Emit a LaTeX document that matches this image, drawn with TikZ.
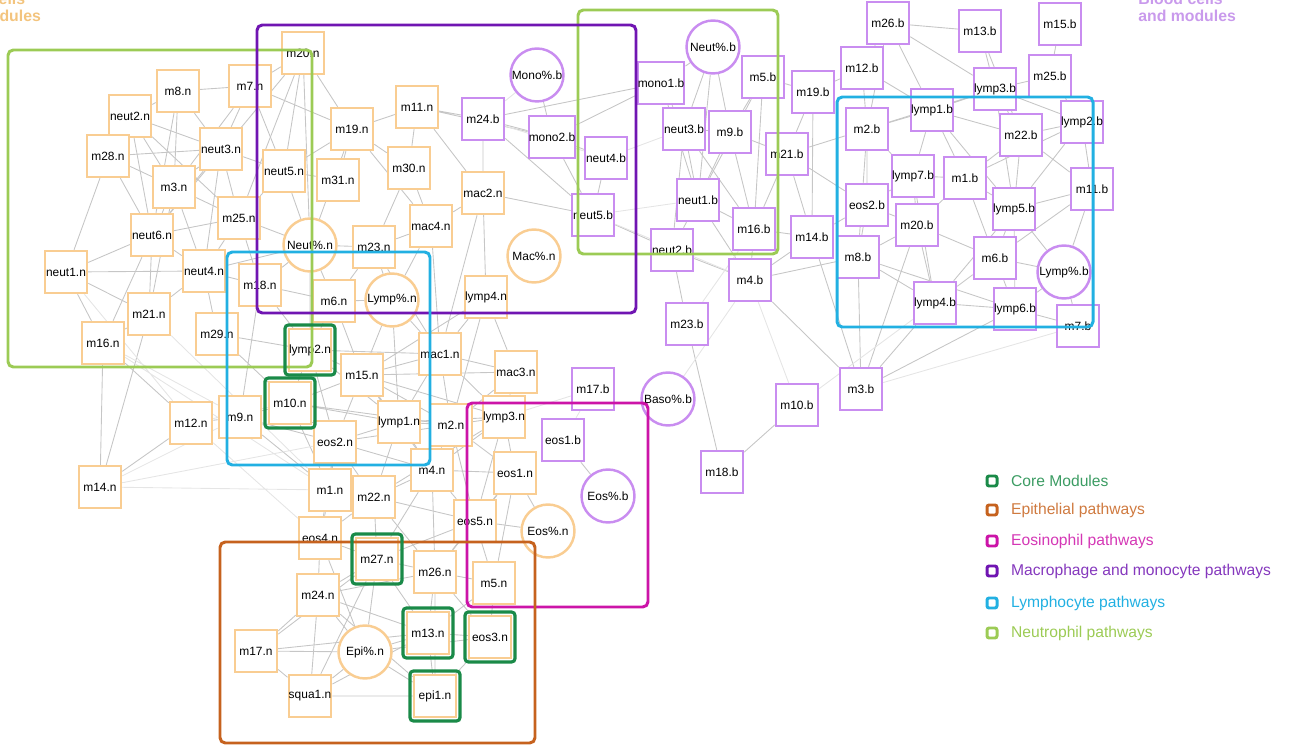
\documentclass[tikz,border=0pt]{standalone}
\usepackage{fontspec}
\setmainfont{Liberation Sans}
\usetikzlibrary{positioning, fit, backgrounds}
\definecolor{nasal}{HTML}{F9CD92}
\definecolor{blood}{HTML}{C98DF0}
\definecolor{nasaltxt}{HTML}{F3C47E}
\definecolor{bloodtxt}{HTML}{C99AEC}
\definecolor{corecol}{HTML}{1A8A48}
\definecolor{epicol}{HTML}{C6621E}
\definecolor{eoscol}{HTML}{CC14A8}
\definecolor{maccol}{HTML}{7015B2}
\definecolor{lymcol}{HTML}{22B0E2}
\definecolor{neucol}{HTML}{9CCB55}

\begin{document}
\begin{tikzpicture}[x=0.02cm, y=-0.02cm,
  nbox/.style={rectangle, draw=nasal, fill=white, line width=1.4pt,
               minimum size=0.84cm, inner sep=0pt,
               font=\fontsize{6.8}{8}\selectfont},
  ncirc/.style={nbox, circle, minimum size=1.06cm},
  bbox/.style={nbox, draw=blood},
  bcirc/.style={ncirc, draw=blood},
  core/.style={rectangle, draw=corecol, line width=1.8pt,
               rounded corners=2pt, inner sep=1.6pt},
  frame/.style={line width=1.7pt, rounded corners=3pt},
  edge/.style={gray!45, line width=0.5pt},
  fedge/.style={gray!20, line width=0.5pt},
  head/.style={font=\fontsize{9}{10}\selectfont\bfseries, inner sep=0pt},
  legsq/.style={rectangle, rounded corners=1.2pt, line width=1.7pt,
                minimum size=0.2cm, inner sep=0pt},
  legtxt/.style={font=\fontsize{8.9}{10}\selectfont, inner sep=0pt},
]
\useasboundingbox (0,0) rectangle (1289,746);
\clip (0,0) rectangle (1289,746);

% headers
\node[head, text=nasaltxt, anchor=base west] (nas1) at (-57,5) {Nasal cells};
\node[head, text=nasaltxt, anchor=base west] (nas2) at (-57,22) {and modules};
\node[head, text=bloodtxt, anchor=base west] (blo1) at (1138,5) {Blood cells};
\node[head, text=bloodtxt, anchor=base west] (blo2) at (1138,22) {and modules};

% nasal nodes
\node[nbox] (m20n) at (303,53) {m20.n};
\node[nbox] (m8n) at (178,91) {m8.n};
\node[nbox] (m7n) at (250,86) {m7.n};
\node[nbox] (neut2n) at (130,116) {neut2.n};
\node[nbox] (m28n) at (108,156) {m28.n};
\node[nbox] (neut3n) at (221,149) {neut3.n};
\node[nbox] (m3n) at (174,187) {m3.n};
\node[nbox] (neut5n) at (284,171) {neut5.n};
\node[nbox] (m25n) at (239,218) {m25.n};
\node[nbox] (neut6n) at (152,235) {neut6.n};
\node[ncirc] (neutPn) at (310,245) {Neut\%.n};
\node[nbox] (m19n) at (352,129) {m19.n};
\node[nbox] (m11n) at (417,107) {m11.n};
\node[nbox] (m31n) at (338,180) {m31.n};
\node[nbox] (m30n) at (409,168) {m30.n};
\node[nbox] (m23n) at (374,247) {m23.n};
\node[nbox] (mac4n) at (431,226) {mac4.n};
\node[nbox] (mac2n) at (483,193) {mac2.n};
\node[ncirc] (macPn) at (534,256) {Mac\%.n};
\node[nbox] (neut1n) at (66,272) {neut1.n};
\node[nbox] (neut4n) at (204,271) {neut4.n};
\node[nbox] (m18n) at (260,285) {m18.n};
\node[nbox] (m6n) at (334,301) {m6.n};
\node[ncirc] (lympPn) at (392,300) {Lymp\%.n};
\node[nbox] (lymp4n) at (486,297) {lymp4.n};
\node[nbox] (m21n) at (149,314) {m21.n};
\node[nbox] (m29n) at (217,334) {m29.n};
\node[nbox] (m16n) at (103,343) {m16.n};
\node[nbox] (lymp2n) at (310,350) {lymp2.n};
\node[nbox] (mac1n) at (440,354) {mac1.n};
\node[nbox] (m15n) at (362,375) {m15.n};
\node[nbox] (mac3n) at (516,372) {mac3.n};
\node[nbox] (m10n) at (290,403) {m10.n};
\node[nbox] (m9n) at (240,417) {m9.n};
\node[nbox] (m12n) at (191,423) {m12.n};
\node[nbox] (lymp1n) at (399,422) {lymp1.n};
\node[nbox] (m2n) at (451,425) {m2.n};
\node[nbox] (lymp3n) at (504,417) {lymp3.n};
\node[nbox] (eos2n) at (335,442) {eos2.n};
\node[nbox] (m4n) at (432,470) {m4.n};
\node[nbox] (eos1n) at (515,473) {eos1.n};
\node[nbox] (m14n) at (100,487) {m14.n};
\node[nbox] (m1n) at (330,490) {m1.n};
\node[nbox] (m22n) at (374,497) {m22.n};
\node[nbox] (eos5n) at (475,521) {eos5.n};
\node[ncirc] (eosPn) at (548,531) {Eos\%.n};
\node[nbox] (eos4n) at (320,538) {eos4.n};
\node[nbox] (m27n) at (377,559) {m27.n};
\node[nbox] (m26n) at (435,572) {m26.n};
\node[nbox] (m5n) at (494,583) {m5.n};
\node[nbox] (m24n) at (318,595) {m24.n};
\node[nbox] (m13n) at (428,633) {m13.n};
\node[nbox] (eos3n) at (490,637) {eos3.n};
\node[nbox] (m17n) at (256,651) {m17.n};
\node[ncirc] (epiPn) at (365,652) {Epi\%.n};
\node[nbox] (squa1n) at (310,696) {squa1.n};
\node[nbox] (epi1n) at (435,696) {epi1.n};

% blood nodes
\node[bbox] (m24b) at (483,119) {m24.b};
\node[bcirc] (monoPb) at (537,75) {Mono\%.b};
\node[bbox] (mono2b) at (552,137) {mono2.b};
\node[bbox] (neut4b) at (606,158) {neut4.b};
\node[bbox] (neut5b) at (593,215) {neut5.b};
\node[bcirc] (neutPb) at (713,47) {Neut\%.b};
\node[bbox] (mono1b) at (661,83) {mono1.b};
\node[bbox] (m5b) at (763,77) {m5.b};
\node[bbox] (m19b) at (813,92) {m19.b};
\node[bbox] (m26b) at (888,23) {m26.b};
\node[bbox] (m12b) at (862,68) {m12.b};
\node[bbox] (m13b) at (980,31) {m13.b};
\node[bbox] (m15b) at (1060,24) {m15.b};
\node[bbox] (m25b) at (1050,76) {m25.b};
\node[bbox] (lymp3b) at (995,89) {lymp3.b};
\node[bbox] (neut3b) at (684,129) {neut3.b};
\node[bbox] (m9b) at (730,132) {m9.b};
\node[bbox] (m2b) at (867,129) {m2.b};
\node[bbox] (lymp1b) at (932,110) {lymp1.b};
\node[bbox] (m22b) at (1021,135) {m22.b};
\node[bbox] (lymp2b) at (1082,122) {lymp2.b};
\node[bbox] (m21b) at (787,154) {m21.b};
\node[bbox] (lymp7b) at (913,176) {lymp7.b};
\node[bbox] (m1b) at (965,178) {m1.b};
\node[bbox] (m11b) at (1092,189) {m11.b};
\node[bbox] (neut1b) at (698,200) {neut1.b};
\node[bbox] (eos2b) at (867,205) {eos2.b};
\node[bbox] (m20b) at (917,225) {m20.b};
\node[bbox] (lymp5b) at (1014,209) {lymp5.b};
\node[bbox] (m16b) at (754,229) {m16.b};
\node[bbox] (m14b) at (812,237) {m14.b};
\node[bbox] (neut2b) at (672,250) {neut2.b};
\node[bbox] (m8b) at (858,257) {m8.b};
\node[bbox] (m6b) at (995,258) {m6.b};
\node[bcirc] (lympPb) at (1064,272) {Lymp\%.b};
\node[bbox] (m4b) at (750,280) {m4.b};
\node[bbox] (lymp4b) at (935,303) {lymp4.b};
\node[bbox] (lymp6b) at (1015,309) {lymp6.b};
\node[bbox] (m7b) at (1078,326) {m7.b};
\node[bbox] (m23b) at (687,324) {m23.b};
\node[bbox] (m17b) at (593,389) {m17.b};
\node[bcirc] (basoPb) at (668,399) {Baso\%.b};
\node[bbox] (m10b) at (797,405) {m10.b};
\node[bbox] (m3b) at (861,389) {m3.b};
\node[bbox] (eos1b) at (563,440) {eos1.b};
\node[bcirc] (eosPb) at (608,496) {Eos\%.b};
\node[bbox] (m18b) at (722,472) {m18.b};

\begin{scope}[on background layer]
  % nasal links
  \draw[edge] (m8n)--(m7n) (m8n)--(neut2n) (m8n)--(m3n) (m8n)--(neut3n) (m8n)--(neut6n);
  \draw[edge] (m7n)--(m20n) (m7n)--(neut3n) (m7n)--(neut5n) (m7n)--(m19n) (m7n)--(m3n);
  \draw[edge] (neut2n)--(neut3n) (neut2n)--(m3n) (neut2n)--(neut6n) (neut2n)--(m28n) (neut2n)--(m25n);
  \draw[edge] (m28n)--(m3n) (m28n)--(neut1n) (m28n)--(neut6n) (m28n)--(neut3n);
  \draw[edge] (neut3n)--(m3n) (neut3n)--(neut5n) (neut3n)--(m25n) (neut3n)--(neut6n) (neut3n)--(neut4n);
  \draw[edge] (m3n)--(neut6n) (m3n)--(m25n) (m3n)--(neut4n) (m3n)--(m21n);
  \draw[edge] (m20n)--(neut5n) (m20n)--(m19n) (m20n)--(neutPn) (m20n)--(m25n) (m20n)--(neut6n);
  \draw[edge] (neut5n)--(neutPn) (neut5n)--(m19n) (neut5n)--(m25n) (neut5n)--(m31n);
  \draw[edge] (m25n)--(neutPn) (m25n)--(neut4n) (m25n)--(neut6n) (m25n)--(m18n);
  \draw[edge] (neut6n)--(neut1n) (neut6n)--(neut4n) (neut6n)--(m21n) (neut6n)--(m16n);
  \draw[edge] (neut1n)--(neut4n) (neut1n)--(m21n) (neut1n)--(m16n);
  \draw[edge] (m21n)--(m16n) (m21n)--(neut4n) (m21n)--(m14n);
  \draw[edge] (m16n)--(m12n) (m16n)--(m14n) (m12n)--(m14n);
  \draw[edge] (neut4n)--(m29n) (neut4n)--(neutPn) (neut4n)--(m18n);
  \draw[edge] (m18n)--(m9n) (m18n)--(lymp2n) (m29n)--(lymp2n) (m29n)--(m10n);
  \draw[edge] (m19n)--(m11n) (m19n)--(m31n) (m19n)--(m30n) (m19n)--(mac4n) (m19n)--(neutPn);
  \draw[edge] (m11n)--(m24b) (m11n)--(mono2b) (m11n)--(mac2n) (m11n)--(m30n);
  \draw[edge] (m30n)--(mac4n) (m30n)--(m23n);
  \draw[edge] (mac4n)--(mac2n) (mac4n)--(m23n) (mac4n)--(lympPn) (mac4n)--(mac1n);
  \draw[edge] (mac2n)--(lymp4n) (mac2n)--(neut5b) (mac2n)--(m24b) (mac2n)--(mac1n);
  \draw[edge] (m24b)--(mono2b) (m24b)--(neut5b);
  \draw[edge] (monoPb)--(mono2b) (mono2b)--(neut4b) (mono2b)--(neut5b) (mono2b)--(mono1b) (neut4b)--(neut5b);
  \draw[edge] (m23n)--(lympPn) (m23n)--(m6n) (m23n)--(neutPn) (m23n)--(mac1n);
  \draw[edge] (neutPn)--(m6n) (neutPn)--(m18n) (neutPn)--(lymp2n);
  \draw[edge] (m6n)--(lympPn) (m6n)--(lymp2n) (m6n)--(m15n) (m6n)--(m18n);
  \draw[edge] (lympPn)--(mac1n) (lympPn)--(m15n) (lympPn)--(lymp1n);
  \draw[edge] (lymp4n)--(mac1n) (lymp4n)--(mac3n) (lymp4n)--(m2n) (lymp4n)--(m15n);
  \draw[edge] (mac1n)--(mac3n) (mac1n)--(m15n) (mac1n)--(m2n) (mac1n)--(lymp1n) (mac1n)--(lymp3n) (mac1n)--(lymp2n);
  \draw[edge] (mac3n)--(lymp3n) (mac3n)--(m2n) (mac3n)--(m15n);
  \draw[edge] (lymp2n)--(m15n) (lymp2n)--(m10n) (lymp2n)--(lymp1n) (lymp2n)--(eos2n);
  \draw[edge] (m15n)--(lymp1n) (m15n)--(m2n) (m15n)--(eos2n) (m15n)--(m10n) (m15n)--(lymp3n) (m15n)--(m4n);
  \draw[edge] (m10n)--(lymp1n) (m10n)--(eos2n) (m10n)--(m9n) (m10n)--(m1n) (m10n)--(m2n);
  \draw[edge] (m9n)--(eos2n) (m9n)--(m12n) (m9n)--(m1n);
  \draw[edge] (lymp1n)--(m2n) (lymp1n)--(eos2n) (lymp1n)--(m4n) (lymp1n)--(m22n) (lymp1n)--(lymp3n);
  \draw[edge] (m2n)--(lymp3n) (m2n)--(m4n) (m2n)--(eos2n) (m2n)--(eos1n) (m2n)--(eos5n);
  \draw[edge] (lymp3n)--(eos1n) (lymp3n)--(m4n) (lymp3n)--(eos5n) (lymp3n)--(m22n);
  \draw[edge] (eos2n)--(m4n) (eos2n)--(m1n) (eos2n)--(m22n) (eos2n)--(eos4n);
  \draw[edge] (m4n)--(m22n) (m4n)--(eos5n) (m4n)--(m26n) (m4n)--(eos1n) (m4n)--(m27n);
  \draw[edge] (eos1n)--(eosPn) (eos1n)--(eos5n) (eos1n)--(m5n) (eos1n)--(m26n);
  \draw[edge] (m1n)--(m22n) (m1n)--(eos4n) (m22n)--(eos4n) (m22n)--(m27n) (m22n)--(m26n) (m22n)--(eos5n);
  \draw[edge] (eos5n)--(eosPn) (eos5n)--(m5n) (eos5n)--(m26n) (eos5n)--(m27n);
  \draw[edge] (eos4n)--(m24n) (eos4n)--(m27n) (eos4n)--(epiPn);
  \draw[edge] (m27n)--(m26n) (m27n)--(m13n) (m27n)--(epiPn) (m27n)--(m24n);
  \draw[edge] (m26n)--(m13n) (m26n)--(m5n) (m26n)--(eos3n) (m26n)--(epi1n) (m26n)--(m24n);
  \draw[edge] (m5n)--(eos3n) (m5n)--(m13n);
  \draw[edge] (m24n)--(m17n) (m24n)--(epiPn) (m24n)--(m13n) (m24n)--(squa1n) (m24n)--(epi1n);
  \draw[edge] (m17n)--(epiPn) (m17n)--(squa1n) (m17n)--(m13n) (m17n)--(m27n);
  \draw[edge] (squa1n)--(epiPn) (squa1n)--(epi1n) (squa1n)--(m13n) (squa1n)--(m27n);
  \draw[edge] (epiPn)--(m13n) (epiPn)--(epi1n) (epiPn)--(eos3n);
  \draw[edge] (m13n)--(epi1n) (m13n)--(eos3n) (epi1n)--(eos3n);
  \draw[fedge] (m16n)--(m9n) (m14n)--(m9n) (m12n)--(m10n) (m14n)--(eos2n) (m16n)--(m1n)
               (m12n)--(eos4n) (neut1n)--(m12n) (m21n)--(m1n) (m14n)--(m1n);
  % blood links
  \draw[edge] (neutPb)--(neut3b) (neutPb)--(m9b) (neutPb)--(neut1b) (neutPb)--(mono1b);
  \draw[edge] (mono1b)--(neut3b) (mono1b)--(neut1b) (mono1b)--(m24b);
  \draw[edge] (neut3b)--(neut1b) (neut3b)--(m9b) (neut3b)--(neut2b) (neut3b)--(m16b);
  \draw[edge] (m9b)--(neut1b) (m9b)--(m16b) (m9b)--(m21b) (m9b)--(m5b);
  \draw[edge] (m5b)--(m16b) (m5b)--(neut1b) (m5b)--(m19b);
  \draw[edge] (neut1b)--(neut2b) (neut1b)--(m16b) (neut1b)--(m4b);
  \draw[edge] (neut2b)--(m4b) (neut2b)--(neut5b) (neut2b)--(m23b);
  \draw[edge] (m16b)--(m4b) (m16b)--(m14b) (m16b)--(m21b);
  \draw[edge] (m4b)--(m8b) (m4b)--(m3b) (m4b)--(m14b);
  \draw[edge] (m23b)--(m18b) (m10b)--(m18b);
  \draw[edge] (m8b)--(m3b) (m8b)--(lymp4b) (m8b)--(m20b) (m8b)--(eos2b) (m8b)--(lymp6b);
  \draw[edge] (m3b)--(lymp6b) (m3b)--(m14b) (m3b)--(m20b) (m3b)--(lymp4b);
  \draw[edge] (m19b)--(m14b) (m19b)--(m12b) (m19b)--(m21b);
  \draw[edge] (m21b)--(m14b) (m21b)--(m2b) (m21b)--(eos2b);
  \draw[edge] (m12b)--(m2b) (m12b)--(m26b) (m12b)--(lymp1b);
  \draw[edge] (m26b)--(m13b) (m26b)--(lymp3b) (m26b)--(m2b) (m26b)--(lymp1b);
  \draw[edge] (m13b)--(lymp3b) (m13b)--(m22b) (m15b)--(m25b) (m25b)--(lymp2b) (m25b)--(lymp3b);
  \draw[edge] (lymp3b)--(lymp1b) (lymp3b)--(m22b) (lymp3b)--(m2b) (lymp3b)--(lymp2b) (lymp3b)--(lymp5b);
  \draw[edge] (lymp1b)--(m2b) (lymp1b)--(lymp7b) (lymp1b)--(m22b) (lymp1b)--(m1b) (lymp1b)--(lymp5b);
  \draw[edge] (m22b)--(lymp5b) (m22b)--(m11b) (m22b)--(lymp2b) (m22b)--(m1b);
  \draw[edge] (lymp2b)--(m11b) (lymp2b)--(lymp5b) (lymp2b)--(m1b);
  \draw[edge] (m11b)--(lymp5b) (m11b)--(lympPb) (m11b)--(m6b);
  \draw[edge] (m2b)--(eos2b) (m2b)--(lymp7b) (m2b)--(m8b);
  \draw[edge] (eos2b)--(m20b) (eos2b)--(lymp7b) (eos2b)--(m14b);
  \draw[edge] (lymp7b)--(m20b) (lymp7b)--(m1b) (lymp7b)--(lymp4b);
  \draw[edge] (m1b)--(lymp5b) (m1b)--(m20b) (m1b)--(m6b);
  \draw[edge] (m20b)--(lymp4b) (m20b)--(m6b);
  \draw[edge] (lymp5b)--(m6b) (lymp5b)--(lymp6b) (lymp5b)--(lympPb) (lymp5b)--(lymp4b);
  \draw[edge] (m6b)--(lympPb) (m6b)--(lymp6b) (m6b)--(lymp4b);
  \draw[edge] (lymp6b)--(lymp4b) (lymp6b)--(m7b) (lympPb)--(m7b) (lympPb)--(lymp6b);
  \draw[edge] (eos1b)--(eosPb);
  \draw[fedge] (neut5b)--(neut1b) (neut4b)--(neut3b) (neut5b)--(m4b) (m24b)--(neut4b)
               (monoPb)--(m24b) (lymp3n)--(m17b) (m17b)--(eos1b) (m10b)--(m4b)
               (m23b)--(m16b) (basoPb)--(m4b) (m3b)--(m7b) (lymp4b)--(m10b);
\end{scope}

% pathway frames
\draw[frame, neucol] (8,50) rectangle (312,367);
\draw[frame, neucol] (578,10) rectangle (778,254);
\draw[frame, maccol] (257,25) rectangle (636,313);
\draw[frame, lymcol] (227,252) rectangle (430,465);
\draw[frame, lymcol] (837,97) rectangle (1093,327);
\draw[frame, eoscol] (467,403) rectangle (648,607);
\draw[frame, epicol] (220,542) rectangle (535,743);

% core modules
\node[core, fit=(lymp2n)] (c1) {};
\node[core, fit=(m10n)] (c2) {};
\node[core, fit=(m27n)] (c3) {};
\node[core, fit=(m13n)] (c4) {};
\node[core, fit=(eos3n)] (c5) {};
\node[core, fit=(epi1n)] (c6) {};

% legend
\node[legsq, draw=corecol] (lg1) at (992,481) {};
\node[legsq, draw=epicol] (lg2) at (992,510) {};
\node[legsq, draw=eoscol] (lg3) at (992,541) {};
\node[legsq, draw=maccol] (lg4) at (992,571) {};
\node[legsq, draw=lymcol] (lg5) at (992,603) {};
\node[legsq, draw=neucol] (lg6) at (992,633) {};
\node[legtxt, text=corecol!85, right=7pt of lg1] (lt1) {Core Modules};
\node[legtxt, text=epicol!85, right=7pt of lg2] (lt2) {Epithelial pathways};
\node[legtxt, text=eoscol!85, right=7pt of lg3] (lt3) {Eosinophil pathways};
\node[legtxt, text=maccol!85, right=7pt of lg4] (lt4) {Macrophage and monocyte pathways};
\node[legtxt, text=lymcol, right=7pt of lg5] (lt5) {Lymphocyte pathways};
\node[legtxt, text=neucol, right=7pt of lg6] (lt6) {Neutrophil pathways};
\end{tikzpicture}
\end{document}
